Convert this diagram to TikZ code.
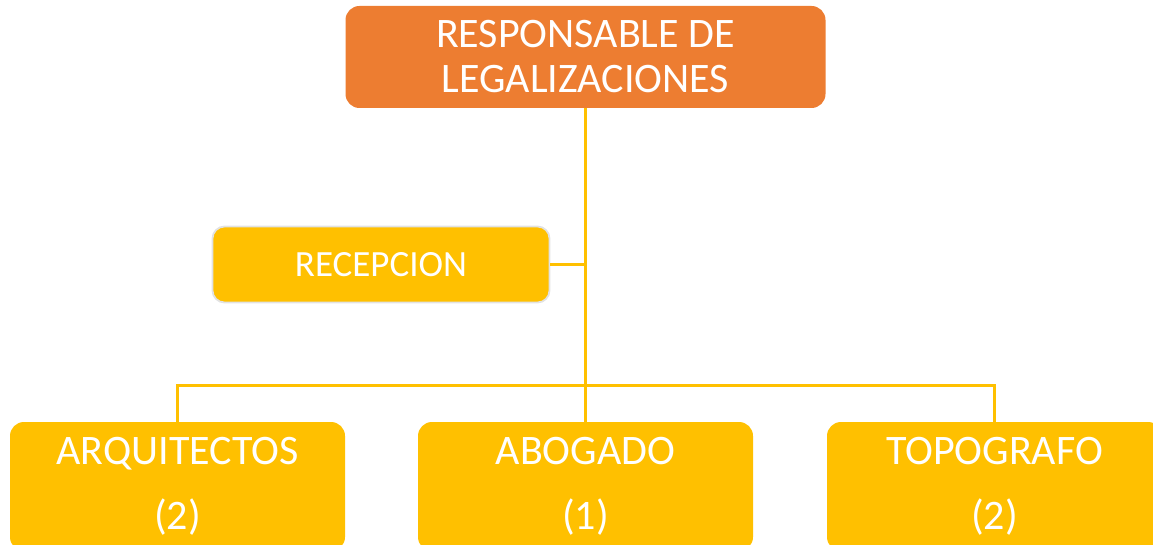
\documentclass[tikz,border=0pt]{standalone}
\usepackage{fontspec}
\setmainfont{Carlito}
\usepackage{tikz}
\usetikzlibrary{positioning,calc}
\definecolor{orgorange}{HTML}{ED7D31}
\definecolor{orggold}{HTML}{FFC000}
\definecolor{orgrim}{HTML}{E2E2E2}

\begin{document}
\begin{tikzpicture}[x=1pt,y=-1pt,
    headbox/.style={fill=orgorange,rounded corners=14pt,text=white,align=center,
      minimum width=480pt,minimum height=102pt,inner sep=0pt,
      font=\fontsize{42}{45}\selectfont},
    sidebox/.style={fill=orggold,draw=orgrim,line width=1.8pt,rounded corners=12pt,
      text=white,minimum width=337pt,minimum height=76pt,inner sep=0pt,
      font=\fontsize{37}{40}\selectfont},
    staffbox/.style={fill=orggold,rounded corners=14pt,text=white,align=center,
      minimum width=335pt,minimum height=129pt,inner sep=0pt,
      font=\fontsize{42}{65}\selectfont},
    link/.style={draw=orggold,line width=3pt}]
  \clip (0,0) rectangle (1153,545);
  \node[headbox] (resp) at (585.5,57) {RESPONSABLE DE\\LEGALIZACIONES};
  \node[sidebox] (recep) at (381,264.5) {RECEPCION};
  \node[staffbox] (arq) at (177.5,486.5) {ARQUITECTOS\\(2)};
  \node[staffbox] (abog) at (585.5,486.5) {ABOGADO\\(1)};
  \node[staffbox] (topo) at (994.5,486.5) {TOPOGRAFO\\(2)};
  \coordinate (hub) at (585.5,385);
  % connectors
  \draw[link] (resp.south) -- (hub);
  \draw[link] (recep.east) -- (recep.east -| hub);
  \draw[link] (arq.north) -- (arq.north |- hub) -- (topo.north |- hub) -- (topo.north);
  \draw[link] (hub) -- (abog.north);
\end{tikzpicture}
\end{document}
